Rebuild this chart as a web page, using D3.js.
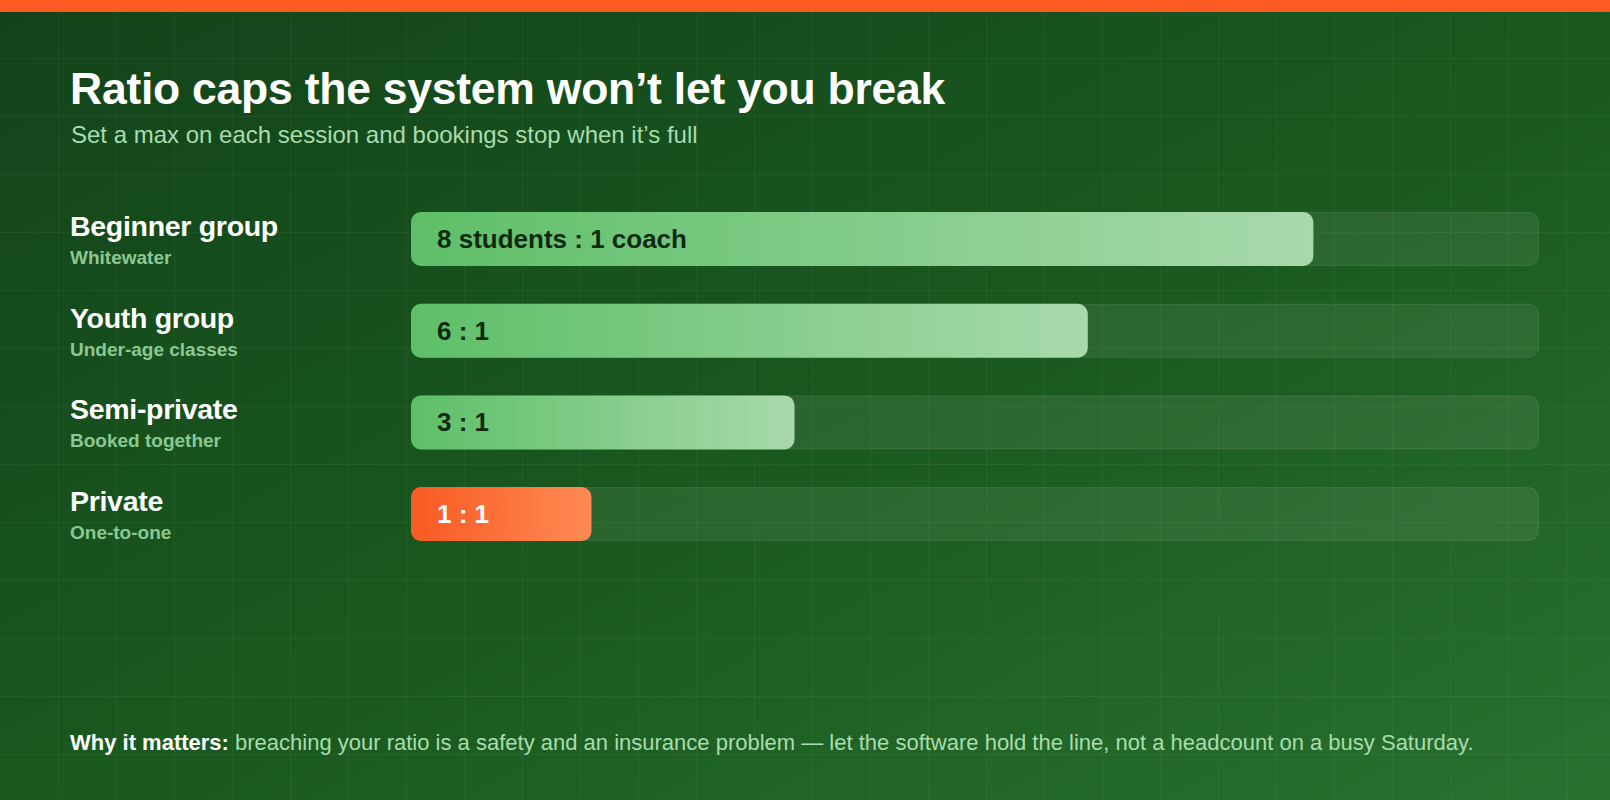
<!DOCTYPE html>
<html>
<head>
<meta charset="utf-8">
<script src="https://cdn.jsdelivr.net/npm/d3@7"></script>
<style>
  html, body { margin: 0; padding: 0; background: #164a1c; }
  svg { display: block; font-family: "Liberation Sans", Arial, Helvetica, sans-serif; }
</style>
</head>
<body>
<div id="chart"></div>
<script>
// data
const categories = ["Beginner group", "Youth group", "Semi-private", "Private"];
const subLabels = ["Whitewater", "Under-age classes", "Booked together", "One-to-one"];
const ratioLabels = ["8 students : 1 coach", "6 : 1", "3 : 1", "1 : 1"];
const fillPct = [80, 60, 34, 16];   // bar length, % of the track
const highlight = [false, false, false, true];

const W = 1610, H = 800;
const svg = d3.select("#chart").append("svg")
  .attr("width", W).attr("height", H);

const defs = svg.append("defs");

const bg = defs.append("linearGradient").attr("id", "bg")
  .attr("x1", 0).attr("y1", 0).attr("x2", 1).attr("y2", 1);
bg.append("stop").attr("offset", "0%").attr("stop-color", "#13431a");
bg.append("stop").attr("offset", "55%").attr("stop-color", "#1a5a20");
bg.append("stop").attr("offset", "100%").attr("stop-color", "#28712f");

const gGreen = defs.append("linearGradient").attr("id", "barGreen")
  .attr("x1", 0).attr("y1", 0).attr("x2", 1).attr("y2", 0);
gGreen.append("stop").attr("offset", "0%").attr("stop-color", "#5ebf68");
gGreen.append("stop").attr("offset", "100%").attr("stop-color", "#a8d9ac");

const gOrange = defs.append("linearGradient").attr("id", "barOrange")
  .attr("x1", 0).attr("y1", 0).attr("x2", 1).attr("y2", 0);
gOrange.append("stop").attr("offset", "0%").attr("stop-color", "#f85a22");
gOrange.append("stop").attr("offset", "100%").attr("stop-color", "#ff8a54");

// background + grid
svg.append("rect").attr("width", W).attr("height", H).attr("fill", "url(#bg)");

const grid = svg.append("g").attr("stroke", "rgba(255,255,255,0.045)").attr("stroke-width", 1);
grid.selectAll("line.v").data(d3.range(58, W, 58)).enter().append("line")
  .attr("x1", d => d + 0.5).attr("x2", d => d + 0.5).attr("y1", 0).attr("y2", H);
grid.selectAll("line.h").data(d3.range(58, H, 58)).enter().append("line")
  .attr("y1", d => d + 0.5).attr("y2", d => d + 0.5).attr("x1", 0).attr("x2", W);

svg.append("rect").attr("width", W).attr("height", 12).attr("fill", "#fb5a22");

// titles
svg.append("text").attr("x", 70).attr("y", 104)
  .attr("fill", "#ffffff").attr("font-size", 44.5).attr("font-weight", 700)
  .attr("letter-spacing", -0.25)
  .text("Ratio caps the system won\u2019t let you break");

svg.append("text").attr("x", 71).attr("y", 143)
  .attr("fill", "#a9dcae").attr("font-size", 24)
  .text("Set a max on each session and bookings stop when it\u2019s full");

// scales
const trackX0 = 411, trackX1 = 1539;
const x = d3.scaleLinear().domain([0, 100]).range([0, trackX1 - trackX0]);
const y = d3.scalePoint().domain(categories).range([212, 212 + 3 * 91.7]);
const barH = 54;

const rows = svg.append("g").selectAll("g.row").data(categories).enter().append("g")
  .attr("transform", d => `translate(0,${y(d)})`);

rows.append("text").attr("x", 70).attr("y", 24)
  .attr("fill", "#ffffff").attr("font-size", 28.5).attr("font-weight", 700)
  .attr("letter-spacing", -0.3)
  .text(d => d);

rows.append("text").attr("x", 70).attr("y", 52)
  .attr("fill", "#8cc891").attr("font-size", 19).attr("font-weight", 700)
  .text((d, i) => subLabels[i]);

rows.append("rect")
  .attr("x", trackX0 + 0.5).attr("y", 0.5)
  .attr("width", x(100) - 1).attr("height", barH - 1)
  .attr("rx", 10)
  .attr("fill", "rgba(255,255,255,0.075)")
  .attr("stroke", "rgba(255,255,255,0.10)");

rows.append("rect")
  .attr("x", trackX0).attr("y", 0)
  .attr("width", (d, i) => x(fillPct[i])).attr("height", barH)
  .attr("rx", 10)
  .attr("fill", (d, i) => highlight[i] ? "url(#barOrange)" : "url(#barGreen)");

rows.append("text").attr("x", trackX0 + 26).attr("y", barH / 2 + 9)
  .attr("fill", (d, i) => highlight[i] ? "#ffffff" : "#0f2a12")
  .attr("font-size", 26).attr("font-weight", 700)
  .text((d, i) => ratioLabels[i]);

// footer
const foot = svg.append("text").attr("x", 70).attr("y", 750).attr("font-size", 22);
foot.append("tspan").attr("fill", "#ffffff").attr("font-weight", 700).text("Why it matters: ");
foot.append("tspan").attr("fill", "#a9dcae")
  .text("breaching your ratio is a safety and an insurance problem \u2014 let the software hold the line, not a headcount on a busy Saturday.");
</script>
</body>
</html>
